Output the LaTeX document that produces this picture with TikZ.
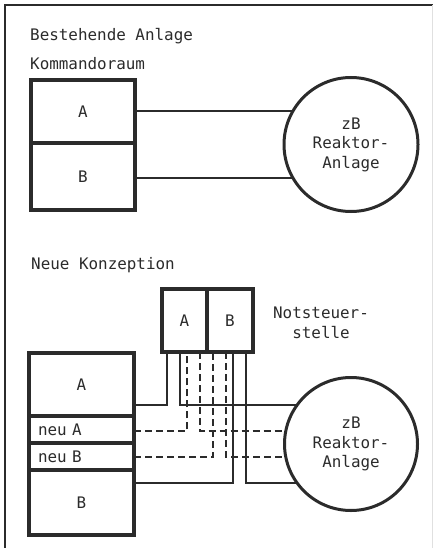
\documentclass[tikz,border=0pt]{standalone}
\usepackage{fontspec}
\setmainfont{DejaVu Sans Mono}
\usetikzlibrary{positioning}
\definecolor{ink}{gray}{0.17}
\begin{document}
\begin{tikzpicture}[x=1pt,y=-1pt,
    every node/.style={font=\fontsize{15.9}{19.5}\selectfont, text=ink},
    lbl/.style={anchor=base west, inner sep=0pt},
    box/.style={draw=ink, line width=3.2pt, minimum width=105pt, inner sep=0pt, outer sep=0pt},
    reaktor/.style={circle, draw=ink, line width=3pt, minimum size=134pt, inner sep=0pt, outer sep=0pt, align=center},
    wire/.style={draw=ink, line width=1.7pt},
    dwire/.style={wire, dash pattern=on 7pt off 4pt}]
  \useasboundingbox (0,0) rectangle (433,548);
  % rahmen
  \draw[ink, line width=2.2pt] (433,5) -- (5,5) -- (5,548);
  \draw[black!12, line width=1pt] (432,5) -- (432,548);

  % bestehende anlage
  \node[lbl] (titel1) at (30,41) {Bestehende Anlage};
  \node[lbl] (kraum) at (30,69.5) {Kommandoraum};
  \node[box, minimum width=104pt, minimum height=63pt] (kA) at (83,111.5) {A};
  \node[box, minimum width=104pt, minimum height=67pt, below=0pt of kA] (kB) {B};
  \node[reaktor] (rT) at (351,144.5) {zB\\Reaktor-\\Anlage};
  \draw[wire] (kA.east |- rT.150) -- (rT.150);
  \draw[wire] (kB.east |- rT.210) -- (rT.210);

  % neue konzeption
  \node[lbl] (titel2) at (31,269) {Neue Konzeption};
  \node[box, minimum width=45pt, minimum height=63pt] (nsA) at (184.5,320.5) {A};
  \node[box, minimum width=46pt, minimum height=63pt, right=0pt of nsA] (nsB) {B};
  \node[align=center, inner sep=0pt] (nslbl) at (321,323) {Notsteuer-\\stelle};

  \node[box, minimum height=63pt] (nA) at (81.5,384.5) {A};
  \node[box, minimum height=27pt, text width=87pt, inner xsep=9pt, align=left, below=0pt of nA] (nuA) {neu A};
  \node[box, minimum height=27pt, text width=87pt, inner xsep=9pt, align=left, below=0pt of nuA] (nuB) {neu B};
  \node[box, minimum height=65pt, below=0pt of nuB] (nB) {B};
  \node[reaktor, minimum size=133pt] (rN) at (351,444) {zB\\Reaktor-\\Anlage};

  \draw[wire] (nA.east |- rN.144) -| ([xshift=5pt]nsA.south west);
  \draw[wire] ([xshift=18pt]nsA.south west) |- (rN.144);
  \draw[dwire] (nuA.east |- rN.169) -| ([xshift=25pt]nsA.south west);
  \draw[dwire] ([xshift=38pt]nsA.south west) |- (rN.169);
  \draw[dwire] (nuB.east |- rN.191) -| ([xshift=6pt]nsB.south west);
  \draw[dwire] ([xshift=19pt]nsB.south west) |- (rN.191);
  \draw[wire] (nB.east |- rN.216) -| ([xshift=26pt]nsB.south west);
  \draw[wire] ([xshift=39pt]nsB.south west) |- (rN.216);
\end{tikzpicture}
\end{document}
